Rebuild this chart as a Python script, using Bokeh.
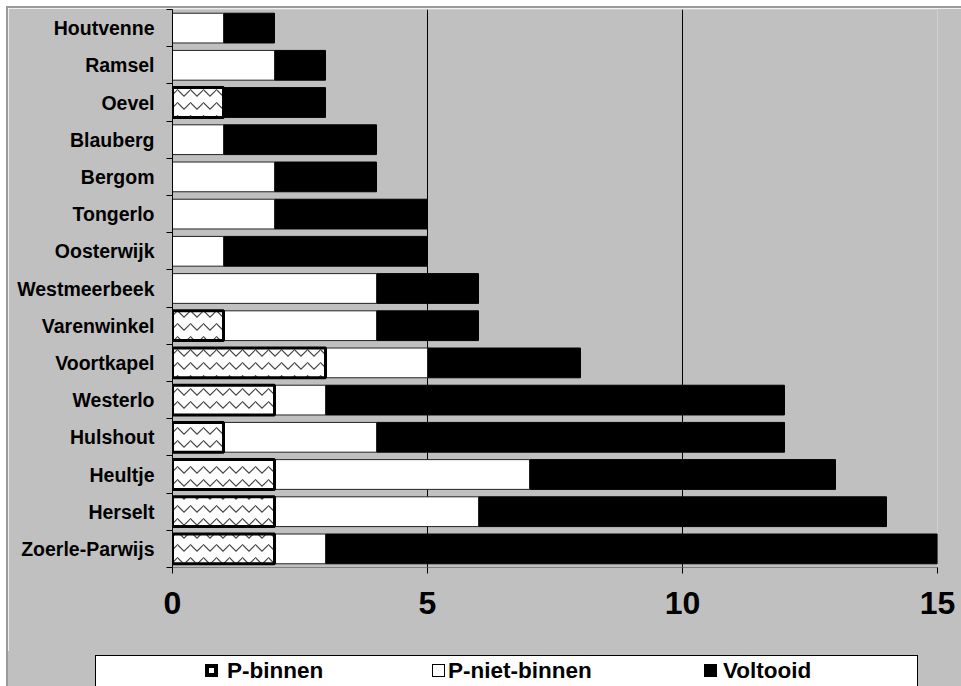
from bokeh.plotting import figure
from bokeh.layouts import column
from bokeh.models import (Range1d, FixedTicker, ColumnDataSource, Div)
from bokeh.embed import file_html
from bokeh.resources import INLINE

categories = ["Houtvenne", "Ramsel", "Oevel", "Blauberg", "Bergom", "Tongerlo",
              "Oosterwijk", "Westmeerbeek", "Varenwinkel", "Voortkapel", "Westerlo",
              "Hulshout", "Heultje", "Herselt", "Zoerle-Parwijs"]
p_binnen = [0, 0, 1, 0, 0, 0, 0, 0, 1, 3, 2, 1, 2, 2, 2]
p_niet_binnen = [1, 2, 0, 1, 2, 2, 1, 4, 3, 2, 1, 3, 5, 4, 1]
voltooid = [1, 1, 2, 3, 2, 3, 4, 2, 2, 3, 9, 8, 6, 8, 12]
x_ticks = [0, 5, 10, 15]
series_names = ["P-binnen", "P-niet-binnen", "Voltooid"]

n = len(categories)
centers = [n - i - 0.5 for i in range(n)]
bounds = [float(k) for k in range(n + 1)]

GRAY = "#C0C0C0"
LABEL_FONT = "Liberation Sans"

styles = [
    dict(fill_color="white", line_color="black", line_width=3,
         hatch_pattern="horizontal_wave", hatch_color="#444444",
         hatch_scale=13, hatch_weight=1.2),
    dict(fill_color="white", line_color="#222222", line_width=1),
    dict(fill_color="black", line_color="black", line_width=1),
]


def segment_source(starts, values):
    ys, lefts, rights = [], [], []
    for y, s, v in zip(centers, starts, values):
        if v > 0:
            ys.append(y)
            lefts.append(s)
            rights.append(s + v)
    return ColumnDataSource(dict(y=ys, left=lefts, right=rights))


start_b = [0] * n
start_nb = list(p_binnen)
start_v = [a + b for a, b in zip(p_binnen, p_niet_binnen)]

p = figure(width=953, height=643, output_backend="svg", toolbar_location=None,
           x_range=Range1d(0, 15), y_range=Range1d(0, n),
           min_border_left=164, min_border_right=24, min_border_top=1,
           min_border_bottom=84)
p.background_fill_color = GRAY
p.border_fill_color = GRAY
p.outline_line_color = None

bar_h = 0.8
p.hbar(y="y", left="left", right="right", height=bar_h,
       source=segment_source(start_v, voltooid), **styles[2])
p.hbar(y="y", left="left", right="right", height=bar_h,
       source=segment_source(start_nb, p_niet_binnen), **styles[1])
p.hbar(y="y", left="left", right="right", height=bar_h,
       source=segment_source(start_b, p_binnen), **styles[0])

# axes
p.xaxis.ticker = FixedTicker(ticks=x_ticks)
p.xaxis.major_tick_out = 6
p.xaxis.major_tick_in = 0
p.xaxis.minor_tick_line_color = None
p.xaxis.axis_line_color = "#808080"
p.xaxis.major_tick_line_color = "black"
p.xaxis.major_label_text_font = LABEL_FONT
p.xaxis.major_label_text_font_style = "bold"
p.xaxis.major_label_text_font_size = "32px"
p.xaxis.major_label_text_color = "black"
p.xaxis.major_label_standoff = 18

p.yaxis.ticker = FixedTicker(ticks=centers, minor_ticks=bounds)
p.yaxis.major_label_overrides = {c: name for c, name in zip(centers, categories)}
p.yaxis.major_tick_line_color = None
p.yaxis.minor_tick_line_color = "black"
p.yaxis.minor_tick_out = 6
p.yaxis.minor_tick_in = 0
p.yaxis.axis_line_color = "black"
p.yaxis.major_label_text_font = LABEL_FONT
p.yaxis.major_label_text_font_style = "bold"
p.yaxis.major_label_text_font_size = "19.5px"
p.yaxis.major_label_text_color = "black"
p.yaxis.major_label_standoff = 12

p.xgrid.ticker = FixedTicker(ticks=x_ticks)
p.xgrid.grid_line_color = "black"
p.xgrid.grid_line_width = 1
p.ygrid.grid_line_color = None

# legend strip: white box with three entries
swatches = [
    "background:white;border:4px solid black;",
    "background:white;border:1.5px solid black;",
    "background:black;",
]
glyph_left = [109, 336, 608]
text_left = [131, 352, 627]
items_html = ""
for name, sw, gx, tx in zip(series_names, swatches, glyph_left, text_left):
    items_html += (
        f'<div style="position:absolute;left:{gx}px;top:8px;width:13px;height:13px;'
        f'box-sizing:border-box;{sw}"></div>'
        f'<div style="position:absolute;left:{tx}px;top:0;height:29px;line-height:29px;'
        f'font-family:\'{LABEL_FONT}\';font-weight:bold;font-size:22.5px;'
        f'color:black;white-space:nowrap;">{name}</div>'
    )
legend_html = (
    f'<div style="position:relative;width:953px;height:35px;background:{GRAY};">'
    f'<div style="position:absolute;left:87px;top:4px;width:823px;height:40px;'
    f'background:white;border:1px solid black;box-sizing:border-box;">'
    f'{items_html}</div></div>'
)
legend_div = Div(text=legend_html, width=953, height=35, margin=0)

layout = column(p, legend_div, spacing=0, margin=(6, 0, 0, 6),
                styles={"border-top": "2px solid #9A9A9A",
                        "border-left": "2px solid #9A9A9A"})

open("out.html", "w").write(file_html(layout, INLINE))
